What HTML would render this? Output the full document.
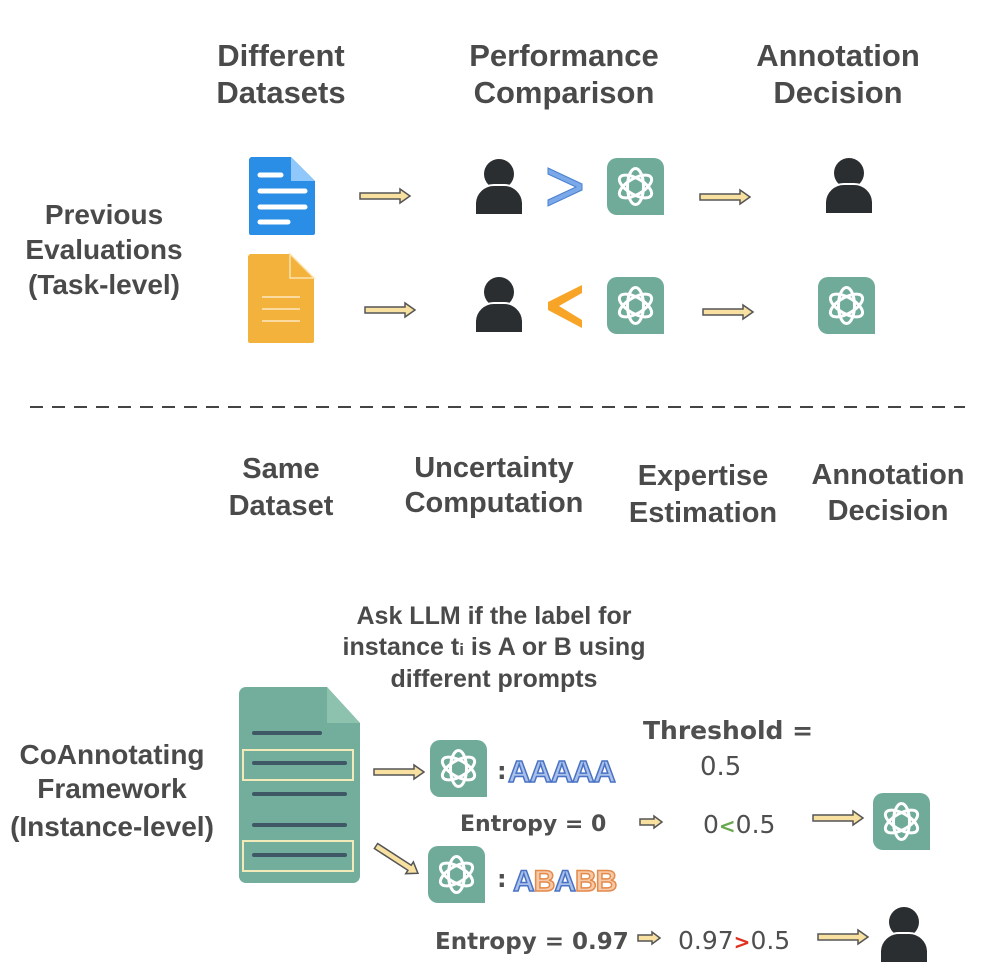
<!DOCTYPE html>
<html><head><meta charset="utf-8"><style>
body{margin:0;background:#fff}
svg{display:block}
.h{font-family:"Liberation Sans",sans-serif;font-weight:bold;fill:#4a4a4a;text-anchor:middle}
.c{font-family:"DejaVu Sans",sans-serif;fill:#4f4f4f}
</style></head><body>
<svg width="988" height="978" viewBox="0 0 988 978" xmlns="http://www.w3.org/2000/svg">
<defs>
<g id="gpt">
<path d="M10 0H47A10 10 0 0 1 57 10V57H10A10 10 0 0 1 0 47V10A10 10 0 0 1 10 0Z" fill="#6fab98"/>
<g fill="none" stroke="#fff" stroke-width="3" transform="translate(28.5 28.5)">
<ellipse rx="8" ry="18" transform="rotate(0)"/>
<ellipse rx="8" ry="18" transform="rotate(60)"/>
<ellipse rx="8" ry="18" transform="rotate(120)"/>
</g>
</g>
<g id="person">
<circle cx="24" cy="16" r="15" fill="#2b2e31"/>
<path d="M0 57V45A19 19 0 0 1 19 27H29A19 19 0 0 1 48 45V57Z" fill="#2b2e31" stroke="#fff" stroke-width="2"/>
</g>
<g id="arr">
<path d="M0 4H40V0L50 7L40 14V10H0Z" fill="#f7e0a0" stroke="#555" stroke-width="1.5"/>
</g>
<g id="sarr">
<path d="M0 3H14V0L22 6L14 12V9H0Z" fill="#f7e0a0" stroke="#555" stroke-width="1.5"/>
</g>
</defs>

<text class="h" font-size="31" x="281" y="66">Different</text>
<text class="h" font-size="31" x="281" y="103">Datasets</text>
<text class="h" font-size="31" x="564" y="66">Performance</text>
<text class="h" font-size="31" x="564" y="103">Comparison</text>
<text class="h" font-size="31" x="838" y="66">Annotation</text>
<text class="h" font-size="31" x="838" y="103">Decision</text>

<text class="h" font-size="28" x="104" y="224">Previous</text>
<text class="h" font-size="28" x="104" y="259">Evaluations</text>
<text class="h" font-size="28" x="104" y="294">(Task-level)</text>

<path d="M251 157H291L315 181V233A2 2 0 0 1 313 235H251A2 2 0 0 1 249 233V159Z" fill="#2a8de6"/>
<path d="M291 157L315 181H291Z" fill="#90c8fb"/>
<g stroke="#fff" stroke-width="5" stroke-linecap="round"><line x1="260" y1="175" x2="281" y2="175"/><line x1="260" y1="191" x2="305" y2="191"/><line x1="260" y1="207" x2="305" y2="207"/><line x1="260" y1="222" x2="288" y2="222"/></g>
<path d="M250 254H290L314 278V341A2 2 0 0 1 312 343H250A2 2 0 0 1 248 341V256Z" fill="#f3b23c"/>
<path d="M290 254L314 278H290Z" fill="#f3b23c" stroke="#fbe3b0" stroke-width="1.5"/>
<g stroke="#fde7bf" stroke-width="1.5"><line x1="262" y1="297" x2="300" y2="297"/><line x1="262" y1="309" x2="300" y2="309"/><line x1="262" y1="321" x2="300" y2="321"/></g>

<use href="#arr" x="360" y="189"/>
<use href="#arr" x="365" y="303"/>
<use href="#person" x="475" y="158"/>
<use href="#person" x="475" y="276"/>
<path d="M548 168L582 184V190L548 206V200L576 187L548 174Z" fill="#7ba8e8" stroke="#4a80d0" stroke-width="1"/>
<path d="M582 285V293L559 306L582 320V328L548 310V302Z" fill="#f8a527"/>
<use href="#gpt" x="607" y="158"/>
<use href="#gpt" x="607" y="277"/>
<use href="#arr" x="700" y="190"/>
<use href="#arr" x="703" y="305"/>
<use href="#person" x="825" y="157"/>
<use href="#gpt" x="818" y="277"/>

<line x1="30" y1="407" x2="965" y2="407" stroke="#444" stroke-width="2" stroke-dasharray="13 9"/>

<text class="h" font-size="29" x="281" y="478">Same</text>
<text class="h" font-size="29" x="281" y="515">Dataset</text>
<text class="h" font-size="29" x="494" y="477">Uncertainty</text>
<text class="h" font-size="29" x="494" y="512">Computation</text>
<text class="h" font-size="29" x="703" y="485">Expertise</text>
<text class="h" font-size="29" x="703" y="522">Estimation</text>
<text class="h" font-size="29" x="888" y="484">Annotation</text>
<text class="h" font-size="29" x="888" y="520">Decision</text>

<text class="h" font-size="25" x="494" y="624">Ask LLM if the label for</text>
<text class="h" font-size="25" x="494" y="655">instance t<tspan font-size="17">i</tspan> is A or B using</text>
<text class="h" font-size="25" x="494" y="687">different prompts</text>

<text class="h" font-size="28" x="112" y="764">CoAnnotating</text>
<text class="h" font-size="28" x="112" y="798">Framework</text>
<text class="h" font-size="28" x="112" y="836">(Instance-level)</text>

<path d="M246 687H327L360 723V876A7 7 0 0 1 353 883H246A7 7 0 0 1 239 876V694A7 7 0 0 1 246 687Z" fill="#72ae9b"/>
<path d="M327 687L360 723H327Z" fill="#8cc2ae"/>
<g stroke="#3f5866" stroke-width="4" stroke-linecap="round"><line x1="254" y1="733" x2="320" y2="733"/><line x1="254" y1="763" x2="345" y2="763"/><line x1="254" y1="794" x2="345" y2="794"/><line x1="254" y1="825" x2="345" y2="825"/><line x1="254" y1="855" x2="345" y2="855"/></g>
<g fill="none" stroke="#f2eab8" stroke-width="2"><rect x="243" y="750" width="110" height="30"/><rect x="243" y="841" width="110" height="30"/></g>

<use href="#arr" x="374" y="765"/>
<g transform="translate(376 846) rotate(33)"><use href="#arr" x="0" y="-7"/></g>
<use href="#gpt" x="430" y="740"/>
<use href="#gpt" x="428" y="846"/>
<text class="c" font-size="24" font-weight="bold" x="497" y="779" fill="#555">:</text>
<text font-family="Liberation Sans,sans-serif" font-weight="bold" font-size="31" x="508" y="782" fill="#a9c1ea" stroke="#4a72c4" stroke-width="1.5" letter-spacing="-1">AAAAA</text>
<text class="c" font-size="24" font-weight="bold" x="497" y="887" fill="#555">:</text>
<text font-family="Liberation Sans,sans-serif" font-weight="bold" font-size="30" x="513" y="891" stroke-width="1.5" letter-spacing="-1"><tspan fill="#a9c1ea" stroke="#4a72c4">A</tspan><tspan fill="#f6c9a8" stroke="#e48a4a">B</tspan><tspan fill="#a9c1ea" stroke="#4a72c4">A</tspan><tspan fill="#f6c9a8" stroke="#e48a4a">BB</tspan></text>

<text class="c" font-size="25" font-weight="bold" x="643" y="739">Threshold =</text>
<text class="c" font-size="26" x="700" y="775">0.5</text>

<text class="c" font-size="22" font-weight="bold" x="460" y="831">Entropy = 0</text>
<use href="#sarr" x="640" y="816"/>
<text class="c" font-size="25" x="703" y="833">0<tspan fill="#6aa84f" font-weight="bold" font-size="20">&lt;</tspan>0.5</text>
<use href="#arr" x="813" y="811"/>
<use href="#gpt" x="873" y="793"/>

<text class="c" font-size="23" font-weight="bold" x="435" y="949">Entropy = 0.97</text>
<use href="#sarr" x="638" y="932"/>
<text class="c" font-size="25" x="678" y="949">0.97<tspan fill="#e03020" font-weight="bold" font-size="20">&gt;</tspan>0.5</text>
<use href="#arr" x="818" y="930"/>
<use href="#person" x="880" y="906"/>
</svg>
</body></html>
